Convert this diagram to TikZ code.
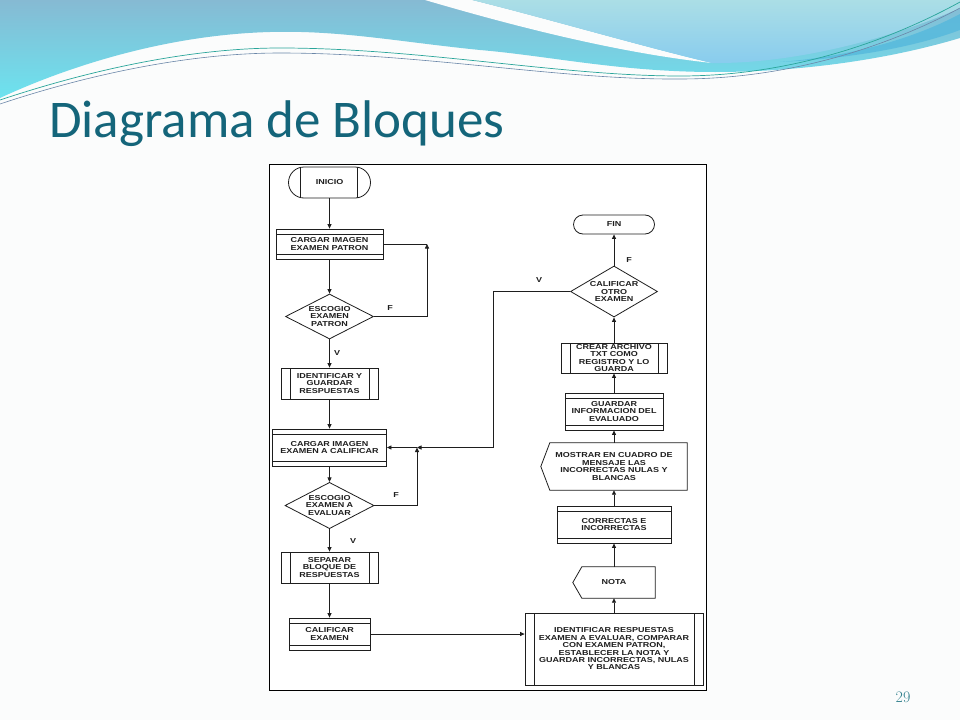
\documentclass[tikz,border=0pt]{standalone}
\usepackage{fontspec}
\usetikzlibrary{shapes.geometric}
\usetikzlibrary{arrows.meta}
\newfontfamily\boxfont[FakeStretch=1.25]{Liberation Sans}
\newfontfamily\titlefont{Carlito}
\definecolor{ink}{HTML}{1E1E1E}
\definecolor{slidebg}{HTML}{FBFCFC}
\definecolor{wavetop}{HTML}{86BAD3}
\definecolor{wavebot}{HTML}{6CE3EF}
\definecolor{swooshtop}{HTML}{ABDEE6}
\definecolor{swooshbot}{HTML}{88CCEE}
\definecolor{bandblue}{HTML}{4FB6DC}
\definecolor{linegreen}{HTML}{2AA59A}
\definecolor{lineblue}{HTML}{6A86A8}
\definecolor{titleteal}{HTML}{14657A}
\definecolor{pageteal}{HTML}{2F7F8C}

\begin{document}
\begin{tikzpicture}[x=1pt, y=-1pt,
    txt/.style={font=\boxfont\bfseries\fontsize{7.2}{7.4}\selectfont, text=ink, align=center, inner sep=0pt},
    box/.style={txt, draw=ink, fill=white, line width=0.8pt},
    store/.style={box, path picture={
        \draw[ink, line width=0.8pt] ([yshift=-5pt]path picture bounding box.north west) -- ([yshift=-5pt]path picture bounding box.north east);
        \draw[ink, line width=0.8pt] ([yshift=5pt]path picture bounding box.south west) -- ([yshift=5pt]path picture bounding box.south east);}},
    subproc/.style={box, path picture={
        \draw[ink, line width=0.8pt] ([xshift=9pt]path picture bounding box.north west) -- ([xshift=9pt]path picture bounding box.south west);
        \draw[ink, line width=0.8pt] ([xshift=-9pt]path picture bounding box.north east) -- ([xshift=-9pt]path picture bounding box.south east);}},
    termsub/.style={box, path picture={
        \draw[ink, line width=0.8pt] ([xshift=12pt]path picture bounding box.north west) -- ([xshift=12pt]path picture bounding box.south west);
        \draw[ink, line width=0.8pt] ([xshift=-13pt]path picture bounding box.north east) -- ([xshift=-13pt]path picture bounding box.south east);}},
    decide/.style={box, diamond, aspect=1.8},
    link/.style={ink, line width=0.8pt},
    arr/.style={link, -{Triangle[length=4.5pt, width=4pt]}}]

    \useasboundingbox (0,0) rectangle (960,720);

    % Slide
    \fill[slidebg] (0,0) rectangle (960,720);

    % Waves
    \shade[top color=wavetop, bottom color=wavebot] (0,0) -- (960,0) -- (960,38) .. controls (880,62) and (790,72) .. (715,72) .. controls (620,72) and (550,56) .. (480,50) .. controls (400,42) and (340,30) .. (270,32) .. controls (160,35) and (60,70) .. (0,98) -- cycle;
    \fill[slidebg] (425,0) .. controls (500,22) and (610,52) .. (712,63) .. controls (640,46) and (545,18) .. (472,0) -- cycle;
    \shade[top color=swooshtop, bottom color=swooshbot] (472,0) .. controls (545,18) and (640,46) .. (712,63) .. controls (800,64) and (900,35) .. (960,8) -- (960,0) -- cycle;
    \fill[bandblue, opacity=0.7] (780,62) .. controls (870,55) and (930,30) .. (960,14) -- (960,30) .. controls (920,45) and (860,58) .. (780,62) -- cycle;
    \draw[linegreen, line width=0.7pt] (0,100) .. controls (90,70) and (190,48) .. (280,48) .. controls (420,48) and (560,76) .. (680,76) .. controls (800,76) and (900,35) .. (960,2);
    \draw[lineblue, line width=0.6pt] (0,104) .. controls (90,74) and (190,53) .. (280,53) .. controls (420,53) and (560,80) .. (680,79) .. controls (800,79) and (900,40) .. (960,8);

    % Title
    \node[anchor=base west, inner sep=0pt, text=titleteal, font=\titlefont\fontsize{53}{53}\selectfont] (title) at (49,137) {Diagrama de Bloques};
    \node[text=pageteal, font=\fontsize{16}{16}\selectfont] (page) at (903,697) {29};

    % Frame
    \draw[black, line width=1pt, fill=white] (269,164) rectangle (706,690);

    % Left column
    \node[termsub, minimum width=82, minimum height=31, rounded corners=15.5pt] (ini) at (329.5,182.5) {INICIO};
    \node[store, minimum width=107, minimum height=30] (patron) at (329.5,244) {CARGAR IMAGEN\\EXAMEN PATRON};
    \node[decide, minimum width=88, minimum height=45] (qpatron) at (329.5,316.5) {ESCOGIO\\EXAMEN\\PATRON};
    \node[subproc, minimum width=97, minimum height=31] (guardar) at (329.5,383.5) {IDENTIFICAR Y\\GUARDAR\\RESPUESTAS};
    \node[store, minimum width=114, minimum height=37] (cargar) at (329.5,447.5) {CARGAR IMAGEN\\EXAMEN A CALIFICAR};
    \node[decide, minimum width=89, minimum height=45] (qevaluar) at (329.5,505.5) {ESCOGIO\\EXAMEN A\\EVALUAR};
    \node[subproc, minimum width=97, minimum height=31] (separar) at (329.5,567.5) {SEPARAR\\BLOQUE DE\\RESPUESTAS};
    \node[store, minimum width=81, minimum height=32] (calificar) at (329.5,634) {CALIFICAR\\EXAMEN};

    % Right column
    \node[subproc, minimum width=178, minimum height=72] (comparar) at (614,649) {IDENTIFICAR RESPUESTAS\\EXAMEN A EVALUAR, COMPARAR\\CON EXAMEN PATRON,\\ESTABLECER LA NOTA Y\\GUARDAR INCORRECTAS, NULAS\\Y BLANCAS};
    \node[txt, minimum width=82, minimum height=31] (nota) at (614,582.5) {NOTA};
    \node[store, minimum width=114, minimum height=37] (correctas) at (614,524.5) {CORRECTAS E\\INCORRECTAS};
    \node[txt, minimum width=146, minimum height=47] (mostrar) at (614,466.5) {MOSTRAR EN CUADRO DE\\MENSAJE LAS\\INCORRECTAS NULAS Y\\BLANCAS};
    \node[store, minimum width=98, minimum height=37] (info) at (614,411.5) {GUARDAR\\INFORMACION DEL\\EVALUADO};
    \node[subproc, minimum width=106, minimum height=30] (archivo) at (614,358) {CREAR ARCHIVO\\TXT COMO\\REGISTRO Y LO\\GUARDA};
    \node[decide, minimum width=87, minimum height=51] (qotro) at (614,291.5) {CALIFICAR\\OTRO\\EXAMEN};
    \node[box, minimum width=81, minimum height=19, rounded corners=9.5pt] (fin) at (614,224.5) {FIN};
    \foreach \n in {nota,mostrar}
        \draw[link] ([xshift=9pt]\n.north west) -- (\n.north east) -- (\n.south east) -- ([xshift=9pt]\n.south west) -- (\n.west) -- cycle;

    % Labels
    \node[txt] (f1) at (390,308) {F};
    \node[txt] (v1) at (337,353) {V};
    \node[txt] (f2) at (396,495) {F};
    \node[txt] (v2) at (353,541) {V};
    \node[txt] (v3) at (539,280) {V};
    \node[txt] (f3) at (629,260) {F};

    % Arrows
    \coordinate (back1) at (427,244);
    \coordinate (back2) at (417,447.5);
    \coordinate (back3) at (493,447.5);
    \draw[arr] (ini.south) -- (patron.north);
    \draw[arr] (patron.south) -- (qpatron.north);
    \draw[arr] (qpatron.east) -| (back1);
    \draw[link] (back1) -- (patron.east);
    \draw[arr] (qpatron.south) -- (guardar.north);
    \draw[arr] (guardar.south) -- (cargar.north);
    \draw[arr] (cargar.south) -- (qevaluar.north);
    \draw[arr] (qevaluar.east) -| (back2);
    \draw[arr] (back2) -- (cargar.east);
    \draw[arr] (qevaluar.south) -- (separar.north);
    \draw[arr] (separar.south) -- (calificar.north);
    \draw[arr] (calificar.east) -- (calificar.east -| comparar.west);
    \draw[arr] (comparar.north) -- (nota.south);
    \draw[arr] (nota.north) -- (correctas.south);
    \draw[arr] (correctas.north) -- (mostrar.south);
    \draw[arr] (mostrar.north) -- (info.south);
    \draw[arr] (info.north) -- (archivo.south);
    \draw[arr] (archivo.north) -- (qotro.south);
    \draw[arr] (qotro.north) -- (fin.south);
    \draw[arr] (qotro.west) -| (back3) -- (back2);
\end{tikzpicture}
\end{document}
